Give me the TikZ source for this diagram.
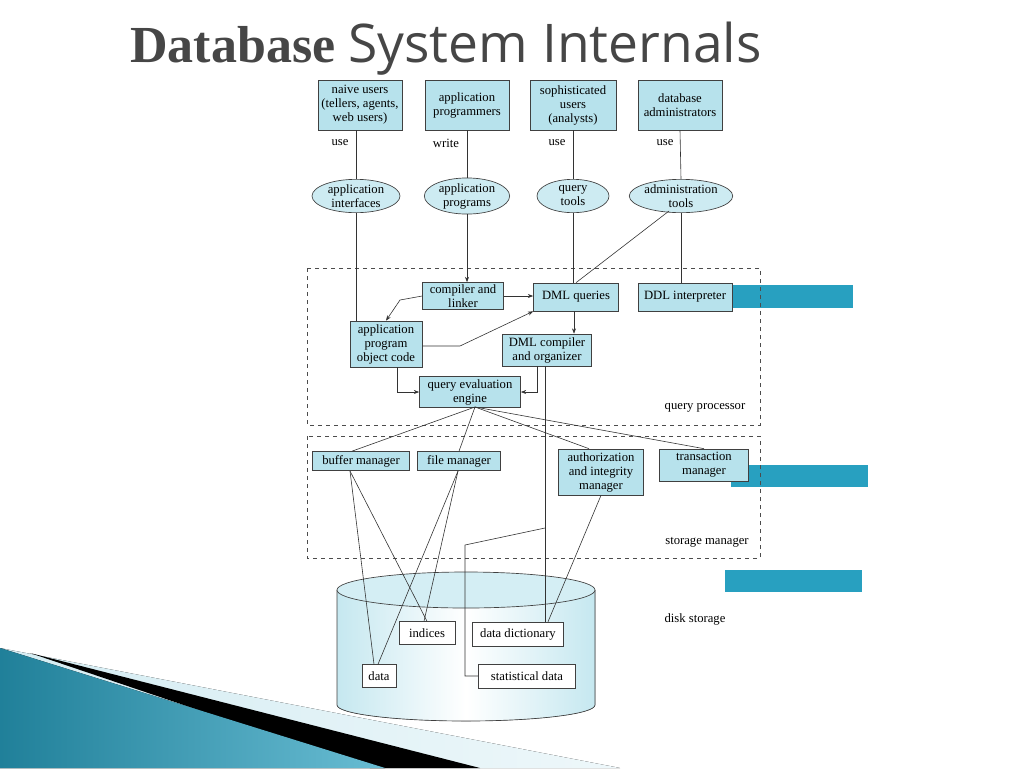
\documentclass[tikz,border=0pt]{standalone}
\usepackage{fontspec}
\setmainfont{Liberation Serif}
\newfontfamily\titlesans{Open Sans}
\usetikzlibrary{shapes.geometric,arrows.meta}
\definecolor{boxblue}{RGB}{183,226,236}
\definecolor{tealbar}{RGB}{40,160,192}
\definecolor{ttl}{RGB}{70,70,70}
\begin{document}
\begin{tikzpicture}[x=0.75pt,y=-0.75pt,
  every node/.style={font=\fontsize{9.5}{10.5}\selectfont},
  bx/.style={draw=black!75,fill=boxblue,align=center,inner sep=1pt,line width=0.5pt},
  el/.style={ellipse,draw=black!75,fill=boxblue!70,align=center,inner sep=0pt,line width=0.5pt},
  wb/.style={draw=black!75,fill=white,inner sep=2pt},
  ln/.style={draw=black!80,line width=0.45pt},
  ar/.style={ln,-{Stealth[length=4pt,width=3pt]}},
  dbox/.style={draw=black!70,dashed,line width=0.5pt},
  lbl/.style={inner sep=0pt}]
\useasboundingbox (0,0) rectangle (1024,768);
% bottom-left decoration
\fill[left color=tealbar!20,right color=tealbar!8] (0,648) -- (620,768) -- (0,768) -- cycle;
\fill[black] (30,653) -- (480,768) -- (370,768) -- cycle;
\fill[left color=tealbar!80!black,right color=tealbar!70] (0,648) -- (385,768) -- (0,768) -- cycle;
% title
\node[anchor=base west,inner sep=0pt,text=ttl] (title) at (130,62) {\fontsize{39}{42}\selectfont\textbf{Database} {\titlesans\fontsize{40}{44}\selectfont System Internals}};
% teal bars
\fill[tealbar] (732,285) rectangle (853,308);
\fill[tealbar] (731,465) rectangle (868,487);
\fill[tealbar] (725,570) rectangle (862,592);
% top users
\node[bx,minimum width=63pt,minimum height=37.5pt] (naive) at (360,105) {naive users\\(tellers, agents,\\web users)};
\node[bx,minimum width=63pt,minimum height=37.5pt] (appprog) at (467,105) {application\\programmers};
\node[bx,minimum width=64.5pt,minimum height=37.5pt] (soph) at (573,105) {sophisticated\\users\\(analysts)};
\node[bx,minimum width=63pt,minimum height=37.5pt] (dba) at (680,105) {database\\administrators};
\node[lbl] (u1) at (340,143) {use};
\node[lbl] (u2) at (446,143) {write};
\node[lbl] (u3) at (557,143) {use};
\node[lbl] (u4) at (665,143) {use};
% ellipses
\node[el,minimum width=66pt,minimum height=25pt] (ai) at (356,196) {application\\interfaces};
\node[el,minimum width=64pt,minimum height=25pt] (ap) at (467,196) {application\\programs};
\node[el,minimum width=54pt,minimum height=25pt] (qt) at (573,196) {query\\tools};
\node[el,minimum width=71pt,minimum height=25pt] (at) at (681,196) {administration\\tools};
% query processor
\draw[dbox] (307,268) rectangle (760,425);
\node[lbl] (qp) at (705,408) {query processor};
\node[bx,minimum width=60.75pt,minimum height=20.25pt] (cl) at (463,296) {compiler and\\linker};
\node[bx,minimum width=63.75pt,minimum height=21pt] (dmlq) at (576,297) {DML queries};
\node[bx,minimum width=70.5pt,minimum height=21pt] (ddl) at (685,297) {DDL interpreter};
\node[bx,minimum width=54pt,minimum height=34.5pt] (obj) at (386,344) {application\\program\\object code};
\node[bx,minimum width=66.75pt,minimum height=24pt] (dmlc) at (547,350) {DML compiler\\and organizer};
\node[bx,minimum width=75.75pt,minimum height=23.25pt] (qee) at (470,392) {query evaluation\\engine};
% storage manager
\draw[dbox] (307,436) rectangle (760,558);
\node[lbl] (sm) at (707,542) {storage manager};
\node[bx,minimum width=72.75pt,minimum height=14.25pt] (buf) at (361,461) {buffer manager};
\node[bx,minimum width=62.25pt,minimum height=14.25pt] (fm) at (459,461) {file manager};
\node[bx,minimum width=63.75pt,minimum height=34.5pt] (auth) at (601,472) {authorization\\and integrity\\manager};
\node[bx,minimum width=66.75pt,minimum height=24pt] (tm) at (704,465) {transaction\\manager};
% disk
\fill[left color=boxblue!80,right color=boxblue!80,middle color=white] (337,590) -- (337,705) arc[start angle=180,end angle=0,x radius=129,y radius=16] -- (595,590) -- cycle;
\draw[black!75,line width=0.5pt] (337,590) -- (337,705) arc[start angle=180,end angle=0,x radius=129,y radius=16] -- (595,590);
\draw[black!75,fill=boxblue!60,line width=0.5pt] (466,590) ellipse[x radius=129,y radius=18];
\node[lbl] (ds) at (695,619) {disk storage};
\node[wb,minimum width=42pt,minimum height=17.25pt] (ind) at (427,633) {indices};
\node[wb,minimum width=68.25pt,minimum height=18pt] (dd) at (518,634) {data dictionary};
\node[wb,minimum width=25.5pt,minimum height=17.25pt] (data) at (379,676) {data};
\node[wb,minimum width=72.75pt,minimum height=18pt] (sd) at (527,676) {statistical data};
% connectors
\draw[ln] (naive.south -| ai.north) -- (ai.north);
\draw[ln] (ai.south) -- (ai.south |- obj.north);
\draw[ln] (appprog.south) -- (ap.north);
\draw[ar] (ap.south) -- (ap.south |- cl.north);
\draw[ln] (soph.south) -- (qt.north);
\draw[ln] (qt.south) -- (qt.south |- dmlq.north);
\draw[ln] (dba.south) -- (at.north);
\draw[ln] (at.south) -- (at.south |- ddl.north);
\coordinate (atl) at (669,211);
\draw[ln] (atl) -- (dmlq.north);
\draw[ar] (cl.east) -- (dmlq.west |- cl.east);
\coordinate (k1) at (400,300);
\draw[ar] (cl.west) -- (k1) -- (obj.north);
\coordinate (k2) at (460,346);
\draw[ar] (obj.east |- k2) -- (k2) -- (dmlq.south west);
\draw[ar] (dmlq.south -| 574,0) -- (574,0 |- dmlc.north);
\coordinate (k3) at (397,392);
\draw[ar] (397,0 |- obj.south) -- (k3) -- (qee.west |- k3);
\coordinate (k4) at (537,392);
\draw[ar] (537,0 |- dmlc.south) -- (k4) -- (qee.east |- k4);
\coordinate (q) at (475,407);
\draw[ln] (q) -- (buf.north -| 352,0);
\draw[ln] (q) -- (fm.north);
\draw[ln] (q) -- (auth.north -| 589,0);
\draw[ln] (q) -- (tm.north);
\draw[ln] (545,0 |- dmlc.south) -- (545,0 |- dd.north);
\coordinate (k5) at (545,528);
\coordinate (k6) at (465,545);
\draw[ln] (k5) -- (k6) -- (465,0 |- sd.west) -- (sd.west);
\draw[ln] (auth.south) -- (dd.north -| 548,0);
\coordinate (b) at (350,471);
\coordinate (f) at (458,471);
\draw[ln] (b) -- (data.north -| 374,0);
\draw[ln] (b) -- (ind.north);
\draw[ln] (f) -- (data.north -| 378,0);
\draw[ln] (f) -- (ind.north -| 424,0);
\end{tikzpicture}
\end{document}
